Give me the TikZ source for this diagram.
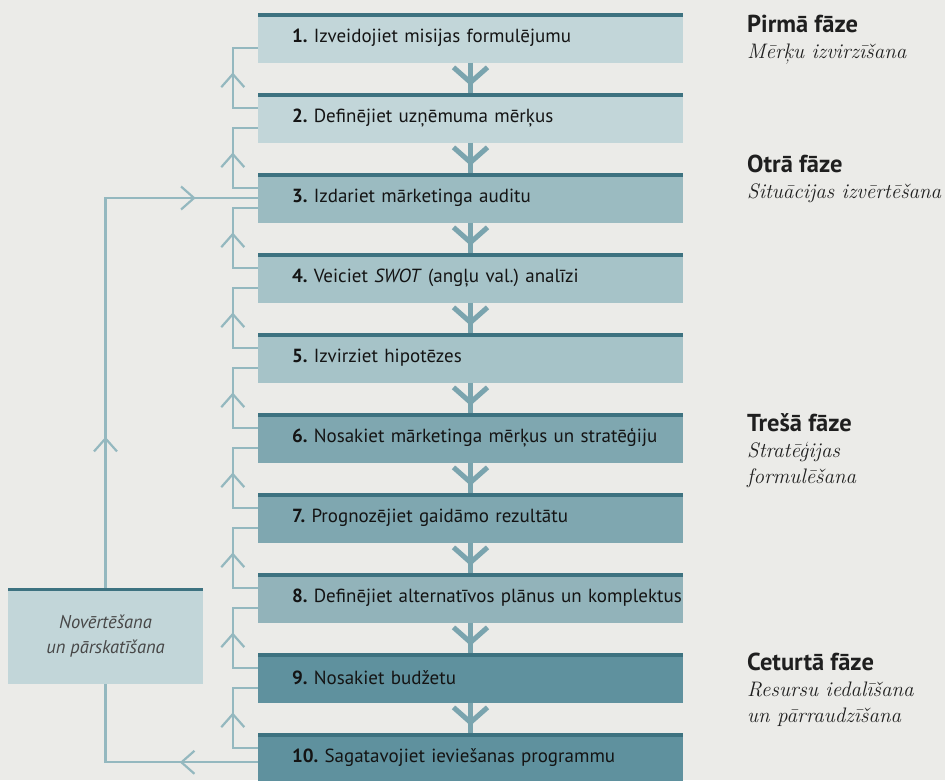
\documentclass[tikz,border=0pt]{standalone}
\usepackage{fontspec}
\setsansfont{PT Sans}
\usetikzlibrary{arrows.meta,decorations.markings}
\frenchspacing

\definecolor{pagebg}{HTML}{EBEBE8}
\definecolor{edgec}{HTML}{3D7280}
\definecolor{flowc}{HTML}{7AA4AE}
\definecolor{backc}{HTML}{94B8BF}
\definecolor{boxa}{HTML}{C2D6D9}
\definecolor{boxb}{HTML}{A6C3C8}
\definecolor{boxc}{HTML}{9BBBC1}
\definecolor{boxd}{HTML}{92B3BA}
\definecolor{boxe}{HTML}{7FA7B0}
\definecolor{boxf}{HTML}{5F919E}

\newcommand{\phtitle}[1]{{\sffamily\bfseries\fontsize{24.5}{26}\selectfont #1}}

\begin{document}
\begin{tikzpicture}[x=1pt, y=-1pt,
  stepbox/.style={minimum width=425pt, minimum height=49pt, inner xsep=0pt, inner ysep=0pt,
    text width=425pt, align=left, text=black!92,
    font=\sffamily\fontsize{19}{22}\selectfont, execute at begin node=\hspace*{34pt},
    path picture={\draw[edgec, line width=6pt] (path picture bounding box.north west) -- (path picture bounding box.north east);}},
  evalbox/.style={minimum width=195pt, minimum height=96pt, inner sep=0pt, fill=boxa, align=center,
    text=black!72, font=\sffamily\itshape\fontsize{18.5}{25}\selectfont,
    path picture={\draw[edgec, line width=6pt] (path picture bounding box.north west) -- (path picture bounding box.north east);}},
  phase/.style={anchor=base west, inner sep=0pt, align=left, text=black!88,
    font=\fontsize{21}{26}\selectfont},
  flow/.style={flowc, line width=5pt, postaction={decorate, decoration={markings,
    mark=at position 23pt with {\arrow{Straight Barb[length=15pt, width=34pt]}}}}},
  backline/.style={backc, line width=2.2pt, postaction={decorate, decoration={markings,
    mark=at position 0.55 with {\arrow{Straight Barb[length=13pt, width=23pt]}}}}},
  loopline/.style={backc, line width=2.2pt}
]
\fill[pagebg] (0,0) rectangle (945,780);
\useasboundingbox (0,0) rectangle (945,780);

% the ten steps
\node[stepbox, fill=boxa] (s1) at (470.5,38) {\textbf{1.} Izveidojiet misijas formulējumu};
\node[stepbox, fill=boxa] (s2) at (470.5,118) {\textbf{2.} Definējiet uzņēmuma mērķus};
\node[stepbox, fill=boxc] (s3) at (470.5,198) {\textbf{3.} Izdariet mārketinga auditu};
\node[stepbox, fill=boxb] (s4) at (470.5,278) {\textbf{4.} Veiciet \textit{SWOT} (angļu val.) analīzi};
\node[stepbox, fill=boxb] (s5) at (470.5,358) {\textbf{5.} Izvirziet hipotēzes};
\node[stepbox, fill=boxe] (s6) at (470.5,438) {\textbf{6.} Nosakiet mārketinga mērķus un stratēģiju};
\node[stepbox, fill=boxe] (s7) at (470.5,518) {\textbf{7.} Prognozējiet gaidāmo rezultātu};
\node[stepbox, fill=boxd] (s8) at (470.5,598) {\textbf{8.} Definējiet alternatīvos plānus un komplektus};
\node[stepbox, fill=boxf] (s9) at (470.5,678) {\textbf{9.} Nosakiet budžetu};
\node[stepbox, fill=boxf] (s10) at (470.5,758) {\textbf{10.} Sagatavojiet ieviešanas programmu};

\node[evalbox] (eval) at (105.5,636) {Novērtēšana\\un pārskatīšana};

% phases (placed by the baseline of the last line)
\node[phase] (ph1) at (747,58) {\phtitle{Pirmā fāze}\\\textit{Mērķu izvirzīšana}};
\node[phase] (ph2) at (747,198) {\phtitle{Otrā fāze}\\\textit{Situācijas izvērtēšana}};
\node[phase] (ph3) at (747,483) {\phtitle{Trešā fāze}\\\textit{Stratēģijas}\\\textit{formulēšana}};
\node[phase] (ph4) at (747,722) {\phtitle{Ceturtā fāze}\\\textit{Resursu iedalīšana}\\\textit{un pārraudzīšana}};

% down the steps
\draw[flow] (s1.south) -- (s2.north);
\draw[flow] (s2.south) -- (s3.north);
\draw[flow] (s3.south) -- (s4.north);
\draw[flow] (s4.south) -- (s5.north);
\draw[flow] (s5.south) -- (s6.north);
\draw[flow] (s6.south) -- (s7.north);
\draw[flow] (s7.south) -- (s8.north);
\draw[flow] (s8.south) -- (s9.north);
\draw[flow] (s9.south) -- (s10.north);

% back up one step
\draw[backline] ([yshift=-15pt]s2.north west) -- ++(-25,0) |- ([yshift=15pt]s1.south west);
\draw[backline] ([yshift=-15pt]s3.north west) -- ++(-25,0) |- ([yshift=15pt]s2.south west);
\draw[backline] ([yshift=-15pt]s4.north west) -- ++(-25,0) |- ([yshift=15pt]s3.south west);
\draw[backline] ([yshift=-15pt]s5.north west) -- ++(-25,0) |- ([yshift=15pt]s4.south west);
\draw[backline] ([yshift=-15pt]s6.north west) -- ++(-25,0) |- ([yshift=15pt]s5.south west);
\draw[backline] ([yshift=-15pt]s7.north west) -- ++(-25,0) |- ([yshift=15pt]s6.south west);
\draw[backline] ([yshift=-15pt]s8.north west) -- ++(-25,0) |- ([yshift=15pt]s7.south west);
\draw[backline] ([yshift=-15pt]s9.north west) -- ++(-25,0) |- ([yshift=15pt]s8.south west);
\draw[backline] ([yshift=-15pt]s10.north west) -- ++(-25,0) |- ([yshift=15pt]s9.south west);

% the big loop
\draw[loopline, postaction={decorate, decoration={markings,
    mark=at position 78pt with {\arrow{Straight Barb[length=13pt, width=23pt]}}}}]
  ([yshift=-29pt]s10.north west) -| (eval.south);
\draw[loopline, postaction={decorate, decoration={markings,
    mark=at position 151pt with {\arrow{Straight Barb[length=13pt, width=23pt]}},
    mark=at position 480pt with {\arrow{Straight Barb[length=13pt, width=23pt]}}}}]
  (eval.north) |- (s3.west);
\end{tikzpicture}
\end{document}
